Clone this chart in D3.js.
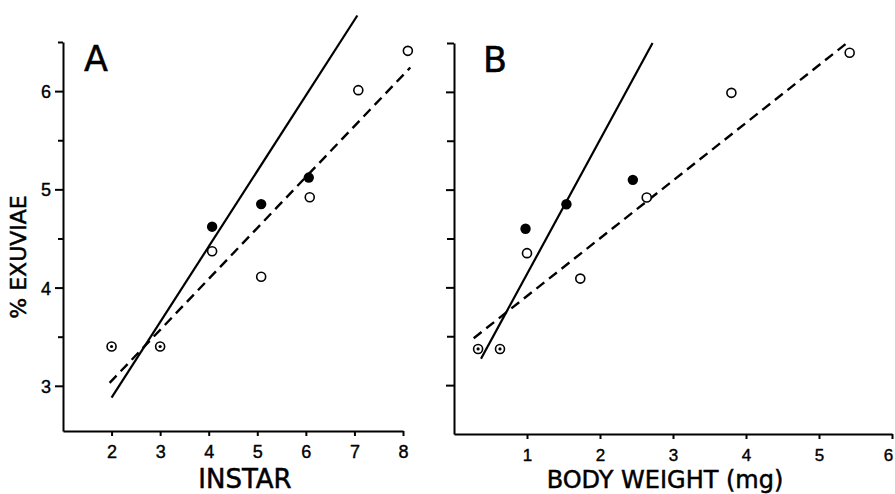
<!DOCTYPE html>
<html>
<head>
<meta charset="utf-8">
<script src="https://cdn.jsdelivr.net/npm/d3@7"></script>
<style>
  body { margin: 0; background: #fff; }
  svg { font-family: "DejaVu Sans", sans-serif; }
  .axis path, .axis line { stroke: #000; stroke-width: 2; }
  .axis text { fill: #000; stroke: #000; stroke-width: 0.4; }
  .label { fill: #000; stroke: #000; stroke-width: 0.5; }
</style>
</head>
<body>
<div id="chart"></div>
<script>
// Panel A: % exuviae vs instar
const instarTicks = [2, 3, 4, 5, 6, 7, 8];
const yMajorTicks = [3, 4, 5, 6];
const yMinorTicks = [3.5, 4.5, 5.5, 6.5];

const aDottedX = [2, 3];
const aDottedY = [3.40, 3.40];
const aFilledX = [4.07, 5.08, 6.06];
const aFilledY = [4.62, 4.85, 5.12];
const aOpenX = [4.07, 5.08, 6.08, 7.08, 8.1];
const aOpenY = [4.37, 4.11, 4.92, 6.01, 6.41];
const aSolidX = [2.0, 7.06];
const aSolidY = [2.88, 6.77];
const aDashedX = [1.96, 8.15];
const aDashedY = [3.03, 6.24];

// Panel B: % exuviae vs body weight (mg)
const weightTicks = [1, 2, 3, 4, 5, 6];

const bDottedX = [0.33, 0.63];
const bDottedY = [3.37, 3.37];
const bFilledX = [0.98, 1.54, 2.45];
const bFilledY = [4.60, 4.85, 5.10];
const bOpenX = [1.0, 1.73, 2.64, 3.80, 5.42];
const bOpenY = [4.35, 4.09, 4.92, 5.99, 6.40];
const bSolidX = [0.37, 2.72];
const bSolidY = [3.27, 6.50];
const bDashedX = [0.27, 5.40];
const bDashedY = [3.48, 6.51];

const svg = d3.select('#chart').append('svg')
  .attr('width', 895)
  .attr('height', 494);

const zip = (xs, ys) => xs.map((x, i) => [x, ys[i]]);

function drawPanel(cfg) {
  const x = d3.scaleLinear().domain(cfg.xDomain).range(cfg.xRange);
  const y = d3.scaleLinear().domain(cfg.yDomain).range(cfg.yRange);
  const g = svg.append('g');

  // x axis
  const xAxisG = g.append('g')
    .attr('class', 'axis')
    .attr('transform', `translate(0,${cfg.yRange[0]})`)
    .call(d3.axisBottom(x).tickValues(cfg.xTicks).tickSize(5).tickSizeOuter(0).tickFormat(d3.format('d')));
  xAxisG.selectAll('text')
    .attr('y', 27).attr('dy', 0)
    .attr('font-size', cfg.tickFont)
    // last label of panel B sits at the page edge, pull it in a little
    .attr('dx', (d, i, n) => (cfg.pullLast && i === n.length - 1) ? -4 : 0);

  // y axis, major ticks
  const yAxisG = g.append('g')
    .attr('class', 'axis')
    .attr('transform', `translate(${cfg.xRange[0]},0)`)
    .call(d3.axisLeft(y).tickValues(yMajorTicks).tickSize(8).tickSizeOuter(0).tickPadding(4)
      .tickFormat(cfg.yLabels ? d3.format('d') : ''));
  yAxisG.selectAll('text').attr('dy', '0.36em').attr('font-size', 18);

  // y axis, minor ticks
  g.append('g')
    .attr('class', 'axis')
    .attr('transform', `translate(${cfg.xRange[0]},0)`)
    .call(d3.axisLeft(y).tickValues(yMinorTicks).tickSize(cfg.minorTick).tickSizeOuter(0).tickFormat(''))
    .call(a => a.select('.domain').remove());

  // regression lines
  const line = d3.line().x(d => x(d[0])).y(d => y(d[1]));
  g.append('path')
    .attr('d', line(zip(cfg.solidX, cfg.solidY)))
    .attr('fill', 'none')
    .attr('stroke', '#000')
    .attr('stroke-width', 2.2);
  g.append('path')
    .attr('d', line(zip(cfg.dashedX, cfg.dashedY)))
    .attr('fill', 'none')
    .attr('stroke', '#000')
    .attr('stroke-width', 2.4)
    .attr('stroke-dasharray', '10,6');

  // open circles
  g.selectAll('.open')
    .data(zip(cfg.openX, cfg.openY))
    .join('circle')
    .attr('cx', d => x(d[0]))
    .attr('cy', d => y(d[1]))
    .attr('r', 4.5)
    .attr('fill', '#fff')
    .attr('stroke', '#000')
    .attr('stroke-width', 1.6);

  // filled circles
  g.selectAll('.filled')
    .data(zip(cfg.filledX, cfg.filledY))
    .join('circle')
    .attr('cx', d => x(d[0]))
    .attr('cy', d => y(d[1]))
    .attr('r', 5.2)
    .attr('fill', '#000');

  // circles with a dot
  const dotted = zip(cfg.dottedX, cfg.dottedY);
  g.selectAll('.dotted-ring')
    .data(dotted)
    .join('circle')
    .attr('cx', d => x(d[0]))
    .attr('cy', d => y(d[1]))
    .attr('r', 4.5)
    .attr('fill', '#fff')
    .attr('stroke', '#000')
    .attr('stroke-width', 1.6);
  g.selectAll('.dotted-dot')
    .data(dotted)
    .join('circle')
    .attr('cx', d => x(d[0]))
    .attr('cy', d => y(d[1]))
    .attr('r', 1.6)
    .attr('fill', '#000');

  // panel letter
  g.append('text')
    .attr('class', 'label')
    .attr('x', cfg.xRange[0] + cfg.letterDx)
    .attr('y', cfg.yRange[1] + 29)
    .attr('font-size', 35)
    .text(cfg.letter);

  // x title
  g.append('text')
    .attr('class', 'label')
    .attr('x', cfg.titleX)
    .attr('y', 488)
    .attr('text-anchor', 'middle')
    .attr('font-size', cfg.titleFont)
    .text(cfg.title);
}

drawPanel({
  xDomain: [1, 8], xRange: [63, 403],
  yDomain: [2.54, 6.5], yRange: [431, 42],
  xTicks: instarTicks, yLabels: true, minorTick: 5, tickFont: 18,
  dottedX: aDottedX, dottedY: aDottedY,
  filledX: aFilledX, filledY: aFilledY,
  openX: aOpenX, openY: aOpenY,
  solidX: aSolidX, solidY: aSolidY,
  dashedX: aDashedX, dashedY: aDashedY,
  letter: 'A', letterDx: 21,
  title: 'INSTAR', titleX: 245, titleFont: 26
});

drawPanel({
  xDomain: [0, 6], xRange: [454, 892],
  yDomain: [2.5, 6.5], yRange: [434, 43],
  xTicks: weightTicks, yLabels: false, minorTick: 7, tickFont: 17, pullLast: true,
  dottedX: bDottedX, dottedY: bDottedY,
  filledX: bFilledX, filledY: bFilledY,
  openX: bOpenX, openY: bOpenY,
  solidX: bSolidX, solidY: bSolidY,
  dashedX: bDashedX, dashedY: bDashedY,
  letter: 'B', letterDx: 29,
  title: 'BODY WEIGHT (mg)', titleX: 665, titleFont: 24
});

// shared y title
svg.append('text')
  .attr('class', 'label')
  .attr('transform', 'translate(26,257) rotate(-90)')
  .attr('text-anchor', 'middle')
  .attr('font-size', 22)
  .text('% EXUVIAE');
</script>
</body>
</html>
